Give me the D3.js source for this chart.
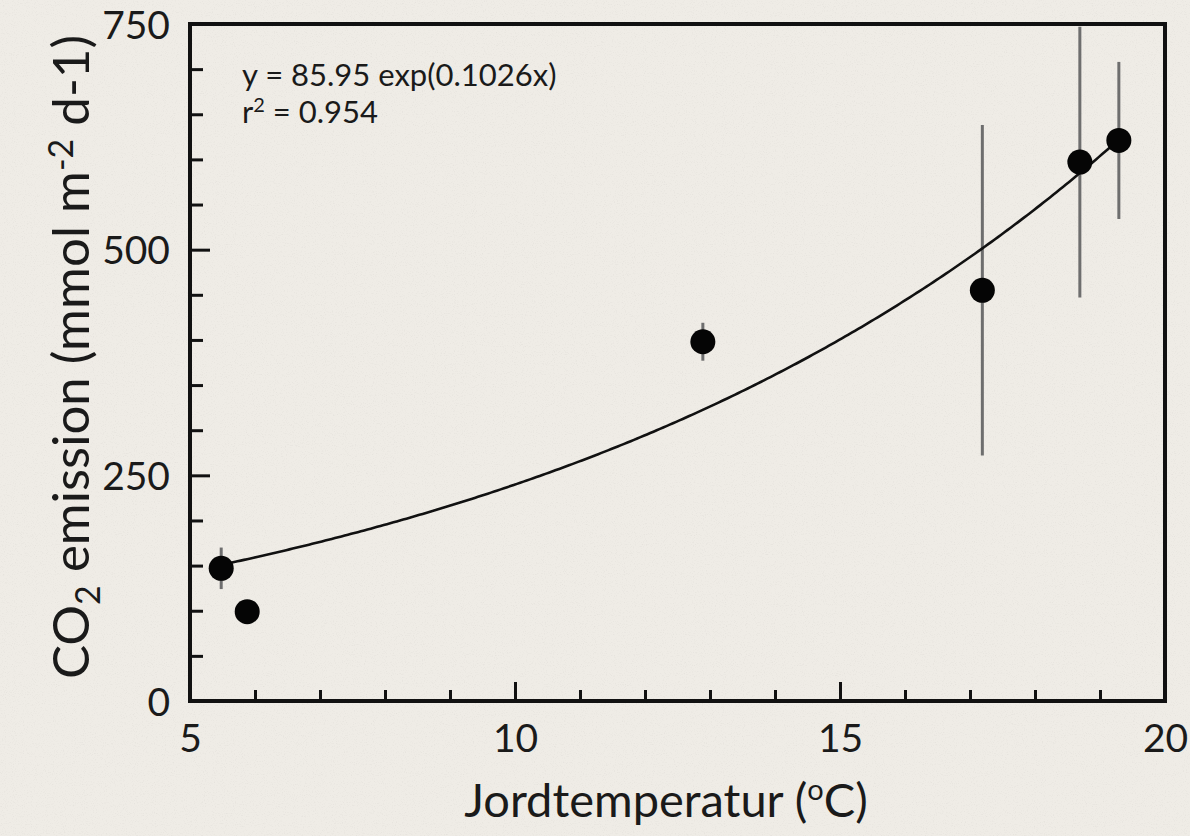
<!DOCTYPE html>
<html>
<head>
<meta charset="utf-8">
<script src="https://cdn.jsdelivr.net/npm/d3@7"></script>
<style>
  html, body { margin: 0; padding: 0; background: #efece6; }
  svg { display: block; }
  text { font-family: Lato, "Open Sans", sans-serif; fill: #1a1a1a; }
</style>
</head>
<body>
<svg id="chart" width="1190" height="836"></svg>
<script>
// Soil temperature (°C) and CO2 emission (mmol m-2 d-1), mean ± error
const temperature = [5.48, 5.88, 12.89, 17.19, 18.69, 19.29];
const emission    = [147, 99, 398, 455, 597, 621];
const emissionErr = [23, 0, 21, 183, 150, 87];

// Exponential fit y = a * exp(b x)
const fitA = 85.95;
const fitB = 0.1026;
const fitRange = [5.48, 19.29];
const fitLabel = "y = 85.95 exp(0.1026x)";
const r2Value = "0.954";

const xTicksMajor = [5, 10, 15, 20];
const yTicksMajor = [0, 250, 500, 750];

const svg = d3.select("#chart");
const W = 1190, H = 836;
const margin = { left: 190, right: 1165, top: 24, bottom: 701 };

// light paper grain
const defs = svg.append("defs");
const grain = defs.append("filter").attr("id", "grain").attr("x", 0).attr("y", 0).attr("width", "100%").attr("height", "100%");
grain.append("feTurbulence").attr("type", "fractalNoise").attr("baseFrequency", 0.9).attr("numOctaves", 2).attr("seed", 3).attr("result", "n");
grain.append("feColorMatrix").attr("in", "n").attr("type", "matrix")
  .attr("values", "0 0 0 0 0.55  0 0 0 0 0.53  0 0 0 0 0.5  0 0 0 -1.6 0.75");
svg.append("rect").attr("width", W).attr("height", H).attr("fill", "#efece6");
svg.append("rect").attr("width", W).attr("height", H).attr("filter", "url(#grain)").attr("opacity", 0.35);

const x = d3.scaleLinear().domain([5, 20]).range([margin.left, margin.right]);
const y = d3.scaleLinear().domain([0, 750]).range([margin.bottom, margin.top]);

// x axis: inward ticks, major every 5, minor every 1
const xMinor = d3.range(5, 21, 1).filter(v => !xTicksMajor.includes(v));
svg.append("g").attr("transform", `translate(0,${margin.bottom})`)
  .call(d3.axisBottom(x).tickValues(xMinor).tickSize(-11).tickFormat(""))
  .call(g => g.select(".domain").remove())
  .call(g => g.selectAll("line").attr("stroke", "#111").attr("stroke-width", 3));
const xAx = svg.append("g").attr("transform", `translate(0,${margin.bottom})`)
  .call(d3.axisBottom(x).tickValues(xTicksMajor).tickSize(-19).tickPadding(0).tickFormat(d3.format("d")))
  .call(g => g.select(".domain").remove());
xAx.selectAll("line").attr("stroke", "#111").attr("stroke-width", 3);
xAx.selectAll("text").attr("y", 51).attr("dy", 0).attr("font-size", 39).attr("fill", "#1a1a1a");

// y axis: inward ticks, major every 250, minor every 50
const yMinor = d3.range(0, 751, 50).filter(v => !yTicksMajor.includes(v));
svg.append("g").attr("transform", `translate(${margin.left},0)`)
  .call(d3.axisLeft(y).tickValues(yMinor).tickSize(-13).tickFormat(""))
  .call(g => g.select(".domain").remove())
  .call(g => g.selectAll("line").attr("stroke", "#111").attr("stroke-width", 3));
const yAx = svg.append("g").attr("transform", `translate(${margin.left},0)`)
  .call(d3.axisLeft(y).tickValues(yTicksMajor).tickSize(-20).tickFormat(d3.format("d")))
  .call(g => g.select(".domain").remove());
yAx.selectAll("line").attr("stroke", "#111").attr("stroke-width", 3);
yAx.selectAll("text").attr("x", -20).attr("dy", "0.36em").attr("font-size", 39).attr("fill", "#1a1a1a");

// error bars
svg.append("g").selectAll("line").data(temperature.map((t, i) => ({ t, v: emission[i], e: emissionErr[i] })).filter(d => d.e > 0))
  .join("line")
  .attr("x1", d => x(d.t)).attr("x2", d => x(d.t))
  .attr("y1", d => y(Math.min(750, d.v + d.e))).attr("y2", d => y(d.v - d.e))
  .attr("stroke", "#6e6e6e").attr("stroke-width", 3);

// fitted curve
const fitPts = d3.range(fitRange[0], fitRange[1], 0.05).concat([fitRange[1]]).map(t => [t, fitA * Math.exp(fitB * t)]);
svg.append("path").datum(fitPts)
  .attr("d", d3.line().x(d => x(d[0])).y(d => y(d[1])))
  .attr("fill", "none").attr("stroke", "#111").attr("stroke-width", 2.6);

// points
svg.append("g").selectAll("circle").data(temperature.map((t, i) => ({ t, v: emission[i] })))
  .join("circle")
  .attr("cx", d => x(d.t)).attr("cy", d => y(d.v)).attr("r", 12.5)
  .attr("fill", "#050505");

// frame
svg.append("rect")
  .attr("x", margin.left).attr("y", margin.top)
  .attr("width", margin.right - margin.left).attr("height", margin.bottom - margin.top)
  .attr("fill", "none").attr("stroke", "#111").attr("stroke-width", 4);

// fit annotation
svg.append("text").attr("x", 242).attr("y", 86).attr("font-size", 31).attr("fill", "#2a2a2a").text(fitLabel);
const r2 = svg.append("text").attr("x", 242).attr("y", 123).attr("font-size", 31).attr("fill", "#2a2a2a");
r2.append("tspan").text("r");
r2.append("tspan").attr("dy", -11).attr("font-size", 20).text("2");
r2.append("tspan").attr("dy", 11).text(" = " + r2Value);

// x axis title
const xt = svg.append("text").attr("x", 666).attr("y", 817).attr("text-anchor", "middle").attr("font-size", 47);
xt.append("tspan").text("Jordtemperatur (");
xt.append("tspan").attr("dy", -17).attr("font-size", 29).text("o");
xt.append("tspan").attr("dy", 17).text("C)");

// y axis title
const yt = svg.append("text").attr("transform", "translate(89,357) rotate(-90)").attr("text-anchor", "middle").attr("font-size", 51);
yt.append("tspan").text("CO");
yt.append("tspan").attr("dy", 11).attr("font-size", 34).text("2");
yt.append("tspan").attr("dy", -11).text(" emission (mmol m");
yt.append("tspan").attr("dy", -16).attr("font-size", 34).text("-2");
yt.append("tspan").attr("dy", 16).text(" d-1)");
</script>
</body>
</html>
